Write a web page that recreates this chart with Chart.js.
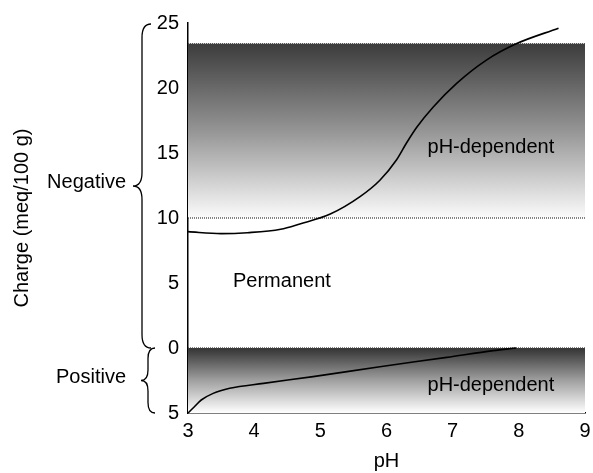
<!DOCTYPE html>
<html>
<head>
<meta charset="utf-8">
<script src="https://cdn.jsdelivr.net/npm/chart.js@4.4.1/dist/chart.umd.min.js"></script>
<style>
  html,body{margin:0;padding:0;background:#fff;}
  #wrap{width:593px;height:473px;position:relative;}
</style>
</head>
<body>
<div id="wrap"><canvas id="chargeChart"></canvas></div>
<script>
// negative charge curve
const phNeg = [3.0, 3.5, 3.9, 4.4, 4.69, 5.15, 5.6, 5.9, 6.15, 6.3, 6.46, 6.71, 7.06, 7.51, 7.96, 8.6];
const chargeNeg = [8.95, 8.8, 8.87, 9.13, 9.54, 10.3, 11.64, 12.9, 14.46, 15.75, 17.0, 18.56, 20.36, 22.15, 23.4, 24.6];
// positive charge curve (plotted below zero)
const phPos = [3.0, 3.1, 3.2, 3.38, 3.63, 4.14, 4.89, 5.9, 6.91, 7.61, 7.96];
const chargePos = [-5, -4.5, -4.0, -3.49, -3.1, -2.72, -2.2, -1.44, -0.72, -0.2, 0];
// band limits
const bandNegTop = 23.4, bandNegBottom = 10;
const bandPosTop = 0, bandPosBottom = -5;
const phRange = [3, 9];
const yTicks = [-5, 0, 5, 10, 15, 20, 25];

const FONT = '"Liberation Sans", Arial, Helvetica, sans-serif';
const pts = (xs, ys) => xs.map((x, i) => ({x, y: ys[i]}));
const flat = v => phRange.map(x => ({x, y: v}));

function bandGradient(top, bottom, dark, mid, light){
  return (context)=>{
    const chart = context.chart;
    if(!chart.chartArea) return dark;
    const y = chart.scales.y;
    const g = chart.ctx.createLinearGradient(0, y.getPixelForValue(top), 0, y.getPixelForValue(bottom));
    g.addColorStop(0, dark);
    g.addColorStop(0.5, mid);
    g.addColorStop(1, light);
    return g;
  };
}

function brace(c, xs, y1, y2, w){
  const ym = (y1 + y2) / 2;
  c.beginPath();
  c.moveTo(xs + w, y1);
  c.quadraticCurveTo(xs, y1, xs, y1 + w * 1.5);
  c.lineTo(xs, ym - w * 1.5);
  c.quadraticCurveTo(xs, ym, xs - w, ym);
  c.quadraticCurveTo(xs, ym, xs, ym + w * 1.5);
  c.lineTo(xs, y2 - w * 1.5);
  c.quadraticCurveTo(xs, y2, xs + w, y2);
  c.stroke();
}

const annotate = {
  id: 'annotate',
  afterDraw(chart){
    const c = chart.ctx, x = chart.scales.x, y = chart.scales.y;
    const left = chart.chartArea.left;
    c.save();
    c.strokeStyle = '#000'; c.lineWidth = 1.3;
    brace(c, left - 46, y.getPixelForValue(25) + 1, y.getPixelForValue(0), 9);
    brace(c, left - 40, y.getPixelForValue(0), y.getPixelForValue(-5), 7);
    c.fillStyle = '#000';
    c.font = '20px ' + FONT;
    c.textBaseline = 'middle';
    c.textAlign = 'right';
    c.fillText('Negative', left - 62, y.getPixelForValue(12.7));
    c.fillText('Positive', left - 62, y.getPixelForValue(-2.3));
    c.textAlign = 'left';
    c.fillText('Permanent', x.getPixelForValue(3.68), y.getPixelForValue(5.1));
    c.fillText('pH-dependent', x.getPixelForValue(6.62), y.getPixelForValue(15.4));
    c.fillText('pH-dependent', x.getPixelForValue(6.62), y.getPixelForValue(-2.85));
    c.restore();
  }
};

const dotted = {borderColor:'#444', borderWidth:1.3, borderDash:[1,1], pointRadius:0, fill:false, order:1};

new Chart(document.getElementById('chargeChart'), {
  type: 'line',
  data: {
    datasets: [
      {data: pts(phNeg, chargeNeg), borderColor:'#000', borderWidth:1.6, pointRadius:0, cubicInterpolationMode:'monotone', fill:false, order:0},
      {data: pts(phPos, chargePos), borderColor:'#000', borderWidth:1.6, pointRadius:0, cubicInterpolationMode:'monotone', fill:false, order:0},
      Object.assign({data: flat(bandNegTop)}, dotted),
      Object.assign({data: flat(bandNegBottom)}, dotted),
      Object.assign({data: flat(bandPosTop)}, dotted),
      {data: flat(bandNegTop), borderWidth:0, pointRadius:0, fill:{value: bandNegBottom}, backgroundColor: bandGradient(bandNegTop, bandNegBottom, '#3c3c3c', '#959595', '#fbfbfb'), order:2},
      {data: flat(bandPosTop), borderWidth:0, pointRadius:0, fill:{value: bandPosBottom}, backgroundColor: bandGradient(bandPosTop, bandPosBottom, '#333333', '#a0a0a0', '#ffffff'), order:2}
    ]
  },
  options: {
    responsive:true, maintainAspectRatio:false, animation:false,
    layout:{padding:{left:0, top:23, right:0, bottom:0}},
    plugins:{legend:{display:false}, tooltip:{enabled:false}},
    scales:{
      x:{
        type:'linear', min:phRange[0], max:phRange[1],
        grid:{display:false, drawTicks:false},
        border:{display:true, color:'#000', width:1.5},
        ticks:{stepSize:1, color:'#000', padding:6, font:{family:FONT, size:20}},
        title:{display:true, text:'pH', color:'#000', font:{family:FONT, size:20}, padding:{top:0, bottom:0}},
        afterFit: s => { s.height = 60; s.paddingRight = 8; }
      },
      y:{
        min:yTicks[0], max:yTicks[yTicks.length-1],
        grid:{display:false, drawTicks:false},
        border:{display:true, color:'#000', width:1.5},
        ticks:{stepSize:5, color:'#000', padding:9, font:{family:FONT, size:20}, callback: v => Math.abs(v)},
        title:{display:true, text:'Charge (meq/100 g)', color:'#000', font:{family:FONT, size:20}, padding:{top:10, bottom:0}},
        afterFit: s => { s.width = 188; }
      }
    }
  },
  plugins:[annotate]
});
</script>
</body>
</html>
